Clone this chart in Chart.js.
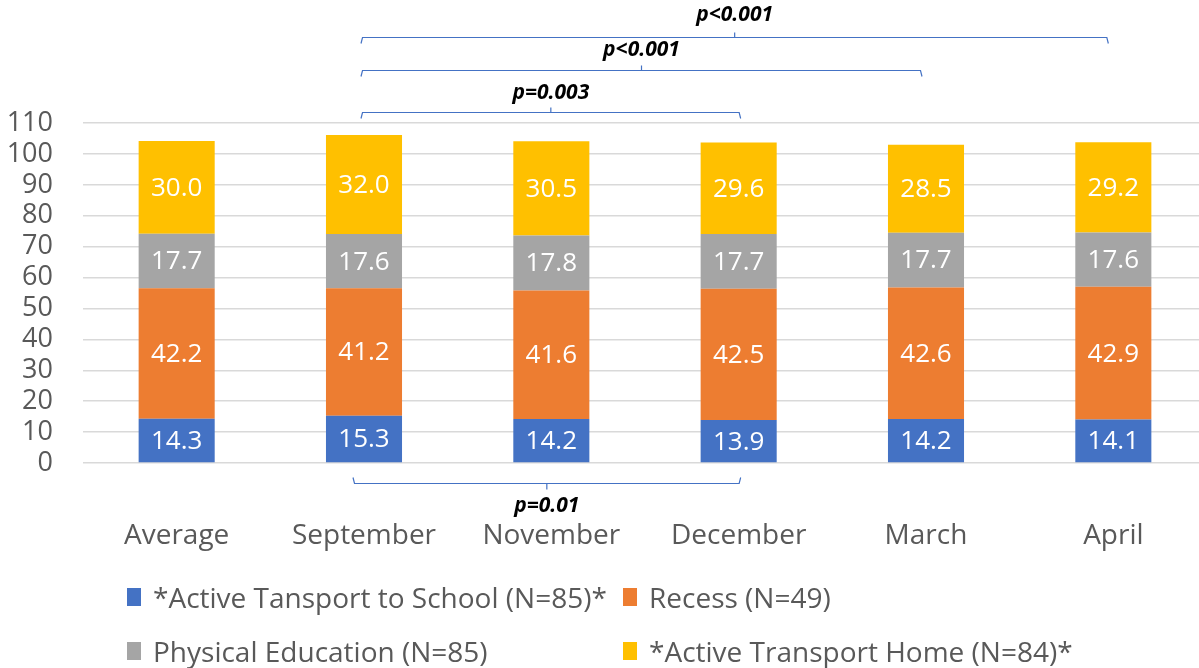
<!DOCTYPE html>
<html>
<head>
<meta charset="utf-8">
<script src="https://cdn.jsdelivr.net/npm/chart.js@4/dist/chart.umd.min.js"></script>
<style>
html,body{margin:0;padding:0;width:1199px;height:668px;overflow:hidden;background:#fff;}
#wrap{position:relative;width:1207px;height:668px;}
canvas{display:block;}
.leg{position:absolute;font-family:'Open Sans',sans-serif;font-size:28px;color:#595959;white-space:nowrap;height:30px;line-height:30px;display:flex;align-items:center;}
.leg .box{display:inline-block;width:14px;height:18px;margin-right:12px;}
</style>
</head>
<body>
<div id="wrap">
<canvas id="c" width="1207" height="668"></canvas>
<div id="legend"></div>
</div>
<script>
const categories = ['Average','September','November','December','March','April'];
const activeToSchool = [14.3, 15.3, 14.2, 13.9, 14.2, 14.1];
const recess = [42.2, 41.2, 41.6, 42.5, 42.6, 42.9];
const physicalEducation = [17.7, 17.6, 17.8, 17.7, 17.7, 17.6];
const activeHome = [30.0, 32.0, 30.5, 29.6, 28.5, 29.2];
const seriesNames = ['*Active Tansport to School (N=85)*','Recess (N=49)','Physical Education (N=85)','*Active Transport Home (N=84)*'];
const seriesColors = ['#4472C4','#ED7D31','#A5A5A5','#FFC000'];
const yMin = 0, yMax = 110, yStep = 10;
const topComparisons = [
  {from: 1, to: 5, label: 'p<0.001'},
  {from: 1, to: 4, label: 'p<0.001'},
  {from: 1, to: 3, label: 'p=0.003'}
];
const bottomComparisons = [
  {from: 1, to: 3, label: 'p=0.01'}
];

const FONT = "'Open Sans', sans-serif";

const valueLabels = {
  id: 'valueLabels',
  afterDatasetsDraw(chart) {
    const ctx = chart.ctx;
    ctx.save();
    ctx.font = '26px ' + FONT;
    ctx.fillStyle = '#ffffff';
    ctx.textAlign = 'center';
    ctx.textBaseline = 'middle';
    chart.data.datasets.forEach((ds, di) => {
      const meta = chart.getDatasetMeta(di);
      meta.data.forEach((bar, i) => {
        const p = bar.getProps(['x','y','base'], true);
        ctx.fillText(ds.data[i].toFixed(1), p.x, (p.y + p.base) / 2 + 1);
      });
    });
    ctx.restore();
  }
};

const brackets = {
  id: 'brackets',
  afterDraw(chart) {
    const ctx = chart.ctx;
    const xs = chart.scales.x;
    const area = chart.chartArea;
    ctx.save();
    ctx.strokeStyle = '#4472C4';
    ctx.lineWidth = 1.2;
    ctx.fillStyle = '#000';
    ctx.font = 'italic bold 21px ' + FONT;
    ctx.textAlign = 'center';
    ctx.textBaseline = 'middle';
    const topOffsets = [-86, -53, -11];
    const textGaps = [-22, -20, -19];
    const leftShift = [-3, -3, -3];
    const rightShift = [-5, -4, 2];
    topComparisons.forEach((c, k) => {
      const y = Math.round(area.top + topOffsets[k]) + 0.5;
      const x1 = xs.getPixelForValue(c.from) + leftShift[k];
      const x2 = xs.getPixelForValue(c.to) + rightShift[k];
      const mid = (x1 + x2) / 2;
      ctx.beginPath();
      ctx.moveTo(x1, y + 6); ctx.lineTo(x1 + 1.5, y); ctx.lineTo(x2 - 1.5, y); ctx.lineTo(x2, y + 6);
      ctx.moveTo(mid, y); ctx.lineTo(mid, y - 5);
      ctx.stroke();
      ctx.fillText(c.label, mid, y + textGaps[k]);
    });
    bottomComparisons.forEach((c) => {
      const y = Math.round(area.bottom + 20) + 0.5;
      const x1 = xs.getPixelForValue(c.from) - 11;
      const x2 = xs.getPixelForValue(c.to) + 2;
      const mid = (x1 + x2) / 2;
      ctx.beginPath();
      ctx.moveTo(x1, y - 6); ctx.lineTo(x1 + 1.5, y); ctx.lineTo(x2 - 1.5, y); ctx.lineTo(x2, y - 6);
      ctx.moveTo(mid, y); ctx.lineTo(mid, y + 6);
      ctx.stroke();
      ctx.fillText(c.label, mid, y + 23);
    });
    ctx.restore();
  }
};

const chart = new Chart(document.getElementById('c'), {
  type: 'bar',
  data: {
    labels: categories,
    datasets: [
      {label: seriesNames[0], data: activeToSchool, backgroundColor: seriesColors[0]},
      {label: seriesNames[1], data: recess, backgroundColor: seriesColors[1]},
      {label: seriesNames[2], data: physicalEducation, backgroundColor: seriesColors[2]},
      {label: seriesNames[3], data: activeHome, backgroundColor: seriesColors[3]}
    ]
  },
  options: {
    responsive: false,
    animation: false,
    devicePixelRatio: 1,
    layout: {padding: {top: 123, left: 0, right: 0, bottom: 0}},
    datasets: {bar: {barPercentage: 0.406, categoryPercentage: 1.0, borderWidth: 0}},
    plugins: {legend: {display: false}, tooltip: {enabled: false}},
    scales: {
      x: {
        stacked: true,
        grid: {display: false, drawTicks: false},
        border: {display: false},
        ticks: {font: {family: FONT, size: 28}, color: '#595959', padding: 56, maxRotation: 0, autoSkip: false},
        afterFit(s) { s.height = 205; }
      },
      y: {
        stacked: true,
        min: yMin, max: yMax,
        grid: {color: '#D9D9D9', lineWidth: 1.5, drawTicks: false},
        border: {display: false},
        ticks: {stepSize: yStep, autoSkip: false, font: {family: FONT, size: 27}, color: '#595959', padding: 30},
        afterFit(s) { s.width = 83; }
      }
    }
  },
  plugins: [valueLabels, brackets]
});

// HTML legend, two rows, two columns
const legendPos = [
  {left: 127, top: 582}, {left: 623, top: 582},
  {left: 127, top: 636}, {left: 623, top: 636}
];
const legendEl = document.getElementById('legend');
seriesNames.forEach((name, i) => {
  const d = document.createElement('div');
  d.className = 'leg';
  d.style.left = legendPos[i].left + 'px';
  d.style.top = legendPos[i].top + 'px';
  const b = document.createElement('span');
  b.className = 'box';
  b.style.background = seriesColors[i];
  d.appendChild(b);
  d.appendChild(document.createTextNode(name));
  legendEl.appendChild(d);
});
</script>
</body>
</html>
